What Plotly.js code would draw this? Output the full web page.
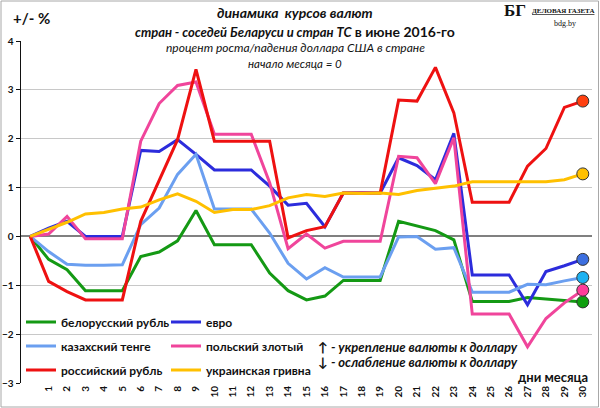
<!DOCTYPE html>
<html>
<head>
<meta charset="utf-8">
<script src="https://cdn.plot.ly/plotly-3.0.1.min.js"></script>
<style>
  html, body { margin: 0; padding: 0; background: #fff; }
  #chart { width: 600px; height: 408px; }
</style>
</head>
<body>
<div id="chart"></div>
<script>
// days of June 2016, point 0 = start of month (unlabelled)
var days = [0, 1, 2, 3, 4, 5, 6, 7, 8, 9, 10, 11, 12, 13, 14, 15,
            16, 17, 18, 19, 20, 21, 22, 23, 24, 25, 26, 27, 28, 29, 30];
var dayLabels = ['1', '2', '3', '4', '5', '6', '7', '8', '9', '10', '11', '12', '13', '14', '15',
                 '16', '17', '18', '19', '20', '21', '22', '23', '24', '25', '26', '27', '28', '29', '30'];
var dayTicks = [1, 2, 3, 4, 5, 6, 7, 8, 9, 10, 11, 12, 13, 14, 15,
                16, 17, 18, 19, 20, 21, 22, 23, 24, 25, 26, 27, 28, 29, 30];

// % change of USD rate in each country
var byr = [0, -0.47, -0.68, -1.11, -1.11, -1.11, -0.41, -0.32, -0.09, 0.53, -0.17, -0.17, -0.17, -0.75, -1.11, -1.30,
           -1.22, -0.90, -0.90, -0.90, 0.31, 0.22, 0.12, -0.07, -1.33, -1.33, -1.33, -1.25, -1.28, -1.32, -1.34];
var eur = [0, 0.17, 0.31, 0, 0, 0, 1.76, 1.74, 1.98, 1.68, 1.36, 1.36, 1.36, 1.03, 0.64, 0.68,
           0.20, 0.89, 0.89, 0.89, 1.61, 1.45, 1.16, 2.11, -0.79, -0.79, -0.79, -1.40, -0.72, -0.60, -0.47];
var kzt = [0, -0.31, -0.57, -0.59, -0.59, -0.58, 0.24, 0.58, 1.27, 1.68, 0.56, 0.56, 0.56, 0.07, -0.55, -0.87,
           -0.64, -0.83, -0.83, -0.83, -0.01, 0.00, -0.26, -0.23, -1.14, -1.14, -1.14, -0.98, -0.99, -0.91, -0.84];
var pln = [0, 0.05, 0.41, -0.05, -0.05, -0.05, 1.95, 2.72, 3.09, 3.16, 2.09, 2.09, 2.09, 1.10, -0.25, 0.05,
           -0.24, -0.10, -0.10, -0.10, 1.64, 1.61, 1.08, 2.02, -1.59, -1.59, -1.59, -2.26, -1.68, -1.36, -1.10];
var rub = [0, -0.92, -1.13, -1.30, -1.30, -1.30, 0.31, 1.16, 1.98, 3.42, 1.95, 1.95, 1.95, 1.95, -0.03, 0.12,
           0.20, 0.89, 0.89, 0.89, 2.79, 2.77, 3.46, 2.53, 0.70, 0.70, 0.70, 1.44, 1.80, 2.64, 2.77];
var uah = [0, 0.15, 0.29, 0.46, 0.49, 0.56, 0.60, 0.75, 0.87, 0.72, 0.49, 0.55, 0.55, 0.63, 0.79, 0.86,
           0.82, 0.89, 0.88, 0.89, 0.86, 0.94, 0.99, 1.03, 1.12, 1.12, 1.12, 1.12, 1.12, 1.16, 1.28];

var names = ['белорусский рубль', 'евро', 'казахский тенге', 'польский злотый', 'российский рубль', 'украинская гривна'];
var series = [byr, eur, kzt, pln, rub, uah];
var lineColors = ['#149914', '#2c2cdc', '#6b9ff0', '#f0459b', '#ee1111', '#ffc000'];
var dotColors = ['#0f9f0f', '#3d6fe0', '#1cb2f2', '#ff3d9a', '#ff4010', '#ffc000'];

var FONT = 'Lato, "Noto Sans", sans-serif';

var pxW = 571;  // plot area width in px, used for paper-relative placement
function px(x) { return (x - 21) / pxW; }
function py(y) { return (383 - y) / 342; }

var plot_data = [];
for (var i = 0; i < series.length; i++) {
    plot_data.push({
        x: days,
        y: series[i],
        name: names[i],
        type: 'scatter',
        mode: 'lines',
        line: {color: lineColors[i], width: 3},
        legend: i == 0 ? 'legend' : 'legend' + (i + 1),
        hoverinfo: 'skip'
    });
}

// end-of-month dots
plot_data.push({
    x: series.map(function(s) { return days[days.length - 1]; }),
    y: series.map(function(s) { return s[s.length - 1]; }),
    type: 'scatter',
    mode: 'markers',
    marker: {size: 12, color: dotColors, line: {color: '#333', width: 1}},
    showlegend: false,
    cliponaxis: false,
    hoverinfo: 'skip'
});

// one small legend per entry, laid out as 3 rows x 2 columns
var legendCols = [px(21), px(166)];
var legendRows = [py(322), py(346), py(370)];
function makeLegend(k) {
    return {
        orientation: 'h',
        x: legendCols[k % 2],
        y: legendRows[Math.floor(k / 2)],
        xanchor: 'left',
        yanchor: 'middle',
        bgcolor: 'rgba(0,0,0,0)',
        font: {family: FONT, size: 12, color: '#111', weight: 'bold'}
    };
}

var annotations = [
    {text: '<b><i>динамика  курсов валют</i></b>', x: px(295), y: py(13), size: 14},
    {text: '<b><i>стран - соседей Беларуси и стран ТС</i> <span style="font-size:14px">в июне 2016-го</span></b>', x: px(295), y: py(32), size: 13},
    {text: '<i>процент роста/падения доллара США в стране</i>', x: px(295), y: py(47.5), size: 12},
    {text: '<i>начало месяца = 0</i>', x: px(295), y: py(63), size: 11.5},
    {text: '<b>+/- %</b>', x: px(31), y: py(18), size: 15},
    {text: '<b>↑ <i>- укрепление валюты к доллару</i></b>', x: px(316), y: py(347), size: 13, xanchor: 'left'},
    {text: '<b>↓ <i>- ослабление валюты к доллару</i></b>', x: px(316), y: py(362), size: 13, xanchor: 'left'},
    {text: '<b>дни месяца</b>', x: px(590), y: py(377), size: 13, xanchor: 'right'},
    {text: '<b>БГ</b>', x: px(528), y: py(11), size: 17, family: '"Liberation Serif", serif', xanchor: 'right'},
    {text: '<b><u>ДЕЛОВАЯ ГАЗЕТА</u></b>', x: px(596), y: py(11), size: 7, family: '"Liberation Serif", serif', xanchor: 'right'},
    {text: 'bdg.by', x: px(565), y: py(24), size: 8, family: '"Liberation Serif", serif'}
].map(function(a) {
    return {
        text: a.text, x: a.x, y: a.y, xref: 'paper', yref: 'paper',
        xanchor: a.xanchor || 'center', yanchor: 'middle', showarrow: false,
        font: {family: a.family || FONT, size: a.size, color: '#111'}
    };
});

var layout = {
    width: 600,
    height: 408,
    margin: {l: 21, r: 8, t: 41, b: 25},
    paper_bgcolor: '#fff',
    plot_bgcolor: '#fff',
    font: {family: FONT, color: '#111'},
    showlegend: true,
    xaxis: {
        range: [-0.5, 30.5],
        tickvals: dayTicks,
        ticktext: dayLabels,
        tickangle: -90,
        tickfont: {family: FONT, size: 10, weight: 'bold', color: '#111'},
        showgrid: false,
        zeroline: false,
        showline: false,
        ticks: ''
    },
    yaxis: {
        range: [-3, 4],
        tickvals: [-3, -2, -1, 0, 1, 2, 3, 4],
        tickfont: {family: FONT, size: 10, weight: 'bold', color: '#111'},
        ticks: 'outside',
        ticklen: 4,
        tickcolor: '#111',
        showline: true,
        linecolor: '#111',
        linewidth: 1.5,
        gridcolor: '#c8c8c8',
        gridwidth: 1,
        zeroline: true,
        zerolinecolor: '#808080',
        zerolinewidth: 2
    },
    annotations: annotations,
    shapes: [{
        type: 'rect', xref: 'paper', yref: 'paper',
        x0: px(1), x1: px(598.5), y0: py(407), y1: py(1),
        line: {color: '#a8a8a8', width: 1}
    }]
};
for (var k = 0; k < names.length; k++) {
    layout[k == 0 ? 'legend' : 'legend' + (k + 1)] = makeLegend(k);
}

var config = {staticPlot: true};
Plotly.newPlot(document.getElementById('chart'), plot_data, layout, config);
</script>
</body>
</html>
